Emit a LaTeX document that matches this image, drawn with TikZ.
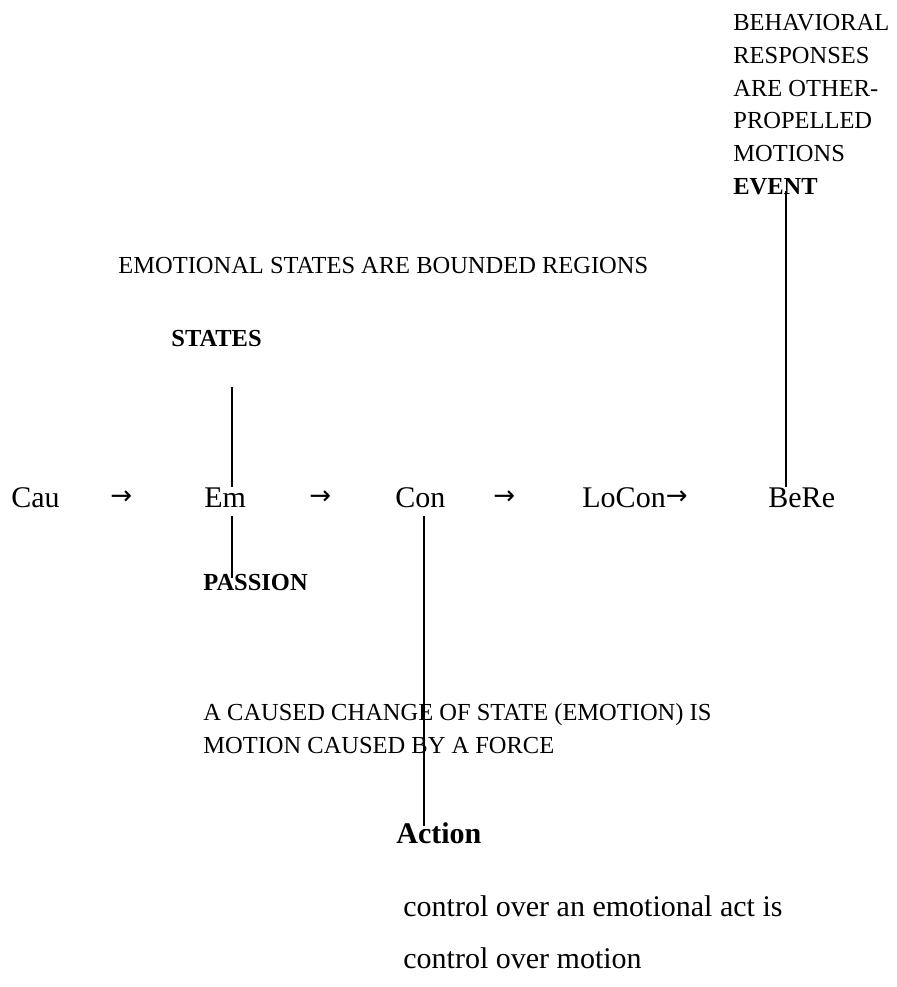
\documentclass[tikz,border=0pt]{standalone}
\usepackage{fontspec}
\setmainfont{Liberation Serif}
\newfontfamily\arrowfont{DejaVu Sans}
\usetikzlibrary{positioning}
\tikzset{
  smalltext/.style={font=\fontsize{11.75}{15.7}\selectfont, inner sep=0pt, anchor=base west, align=left},
  bigtext/.style={font=\fontsize{14.4}{25.2}\selectfont, inner sep=0pt, anchor=base west, align=left},
  flowarrow/.style={bigtext},
  link/.style={line width=0.75pt},
}
\newcommand{\rowarrow}{{\arrowfont\fontsize{12.5}{15}\selectfont\raisebox{1.2pt}{→}}}
\begin{document}
\begin{tikzpicture}[x=0.48pt, y=-0.48pt]
  \useasboundingbox (0,0) rectangle (897,987);
  % Top right block
  \node[smalltext, anchor=north west] (behav) at (733,14) {BEHAVIORAL\\RESPONSES\\ARE OTHER-\\PROPELLED\\MOTIONS};
  \node[smalltext, font=\fontsize{11.75}{15.7}\selectfont\bfseries] (event) at (733,194) {EVENT};
  % States
  \node[smalltext] (bounded) at (118,273) {EMOTIONAL STATES ARE BOUNDED REGIONS};
  \node[smalltext, font=\fontsize{11.75}{15.7}\selectfont\bfseries] (states) at (171,346) {STATES};
  % Main row
  \node[bigtext] (cau) at (11,507) {Cau};
  \node[flowarrow] (arr1) at (110,507) {\rowarrow};
  \node[bigtext] (em) at (204,507) {Em};
  \node[flowarrow] (arr2) at (309,507) {\rowarrow};
  \node[bigtext] (con) at (395,507) {Con};
  \node[flowarrow] (arr3) at (493,507) {\rowarrow};
  \node[bigtext] (locon) at (582,507) {LoCon\rowarrow};
  \node[bigtext] (bere) at (768,507) {BeRe};
  % Below
  \node[smalltext, font=\fontsize{11.75}{15.7}\selectfont\bfseries] (passion) at (203,590) {PASSION};
  \node[smalltext, anchor=north west, font=\fontsize{11.75}{15.9}\selectfont] (caused) at (203,703) {A CAUSED CHANGE OF STATE (EMOTION) IS\\MOTION CAUSED BY A FORCE};
  \node[bigtext, font=\fontsize{14.4}{25.2}\selectfont\bfseries] (action) at (396,843) {Action};
  \node[bigtext, anchor=north west] (control) at (403,895) {control over an emotional act is\\control over motion};
  % Lines
  \coordinate (statesfoot) at (232,387);
  \coordinate (passionhead) at (232,578);
  \coordinate (eventfoot) at (786,191);
  \coordinate (actionhead) at (424,826);
  \draw[link] (statesfoot) -- (statesfoot |- em.north);
  \draw[link] ([yshift=-4pt]passionhead |- em.south) -- (passionhead);
  \draw[link] ([yshift=-4pt]actionhead |- con.south) -- (actionhead);
  \draw[link] (eventfoot) -- (eventfoot |- bere.north);
\end{tikzpicture}
\end{document}
